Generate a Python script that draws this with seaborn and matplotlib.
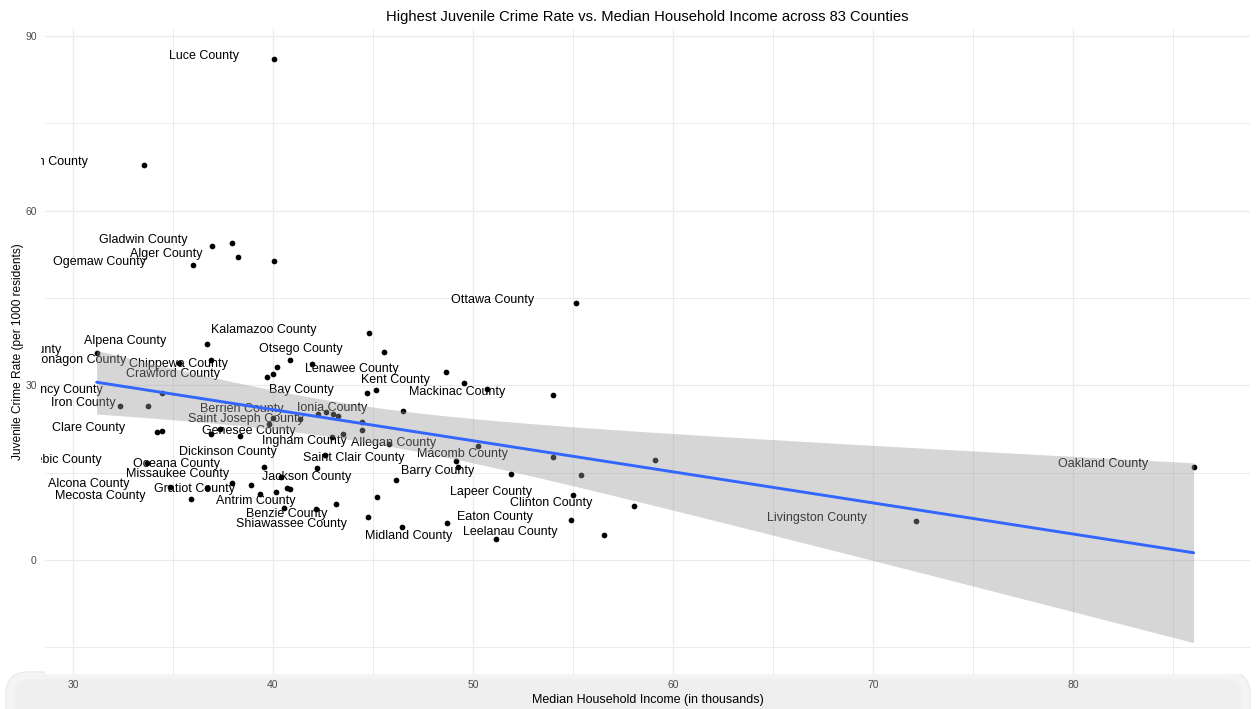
import numpy as np
import pandas as pd
import matplotlib
matplotlib.use("Agg")
import matplotlib.pyplot as plt
import seaborn as sns
from matplotlib.patches import FancyBboxPatch
from matplotlib.transforms import IdentityTransform, Bbox

# County data: median household income (thousands) and juvenile crime rate
# (per 1000 residents). Empty names are counties whose label is not shown.
county = [
    "Luce County", "Roscommon County", "Gladwin County", "", "Alger County", "",
    "Ogemaw County", "Ottawa County", "Kalamazoo County", "Alpena County",
    "Lake County", "Otsego County", "", "Ontonagon County", "", "",
    "Chippewa County", "Crawford County", "", "Lenawee County", "Kent County", "",
    "Mackinac County", "Bay County", "", "Montmorency County", "", "Iron County",
    "Ionia County", "", "Berrien County", "", "", "Saint Joseph County", "", "",
    "", "", "", "Clare County", "", "", "", "", "Genesee County", "Ingham County",
    "Allegan County", "Dickinson County", "Gogebic County", "Oceana County", "",
    "Missaukee County", "Jackson County", "Alcona County", "", "", "",
    "Mecosta County", "", "Gratiot County", "", "", "", "Antrim County", "", "",
    "Benzie County", "Shiawassee County", "Macomb County", "", "Saint Clair County",
    "", "Barry County", "", "Lapeer County", "Clinton County", "Eaton County", "",
    "Leelanau County", "Midland County", "Oakland County", "Livingston County",
]
income = [
    40.05, 33.55, 37.96, 36.93, 38.27, 40.05,
    35.99, 55.13, 44.80, 36.72,
    31.18, 45.55, 36.88, 35.30, 40.87, 41.97,
    40.22, 39.68, 40.02, 48.63, 49.57, 50.68,
    54.02, 44.68, 45.15, 34.47, 32.35, 33.77,
    46.48, 42.27, 42.63, 43.02, 43.23, 44.43, 44.43, 40.02,
    41.35, 39.80, 34.18, 34.43, 36.88, 37.35, 38.35, 42.97, 43.48, 45.82,
    50.27, 42.62, 33.68, 39.55, 42.22,
    40.38, 46.15, 34.85, 36.72, 37.93, 38.88,
    35.88, 39.35, 40.13, 40.68, 40.85, 45.18, 43.13, 40.55, 42.15,
    44.73, 46.47, 54.02, 59.10, 49.13,
    49.27, 51.88, 55.38, 55.02, 58.05, 54.90, 48.72,
    56.57, 51.13, 86.03, 72.17,
]
crime_rate = [
    86.1, 67.9, 54.5, 54.0, 52.1, 51.3,
    50.6, 44.2, 38.9, 37.1,
    35.5, 35.7, 34.3, 33.9, 34.3, 33.6,
    33.1, 31.4, 31.9, 32.2, 30.4, 29.4,
    28.4, 28.6, 29.2, 28.6, 26.5, 26.4,
    25.5, 25.0, 25.4, 25.0, 24.8, 23.7, 22.4, 24.3,
    24.2, 23.3, 21.9, 22.1, 21.6, 22.5, 21.3, 21.1, 21.6, 19.9,
    19.5, 18.0, 16.6, 15.9, 15.8,
    14.3, 13.8, 12.5, 12.3, 13.2, 12.9,
    10.5, 11.4, 11.7, 12.3, 12.1, 10.8, 9.6, 9.0, 8.8,
    7.4, 5.7, 17.7, 17.2, 17.0,
    16.0, 14.7, 14.6, 11.1, 9.3, 6.8, 6.4,
    4.35, 3.65, 16.0, 6.7,
]

df = pd.DataFrame({"county": county, "income": income, "rate": crime_rate})

sns.set_theme(style="whitegrid")
plt.rcParams["font.family"] = ["Liberation Sans", "DejaVu Sans"]

W, H = 1256, 709
fig = plt.figure(figsize=(W / 100, H / 100), dpi=100)
fig.patch.set_facecolor("white")

# soft rounded strip along the bottom edge behind the x axis text
strip = FancyBboxPatch((6, -30), W - 12, 30 + 37,
                       boxstyle="round,pad=0,rounding_size=22",
                       transform=IdentityTransform(), facecolor="#f4f4f4",
                       edgecolor="#ececec", linewidth=1.0, zorder=-2)
fig.patches.append(strip)
strip2 = FancyBboxPatch((14, -30), W - 28, 30 + 30,
                        boxstyle="round,pad=0,rounding_size=18",
                        transform=IdentityTransform(), facecolor="#efefef",
                        edgecolor="none", zorder=-1)
fig.patches.append(strip2)

ax = fig.add_axes([45 / W, 1 - 674 / H, (1250 - 45) / W, (674 - 29) / H])
ax.set_facecolor("white")

# points and county labels
ax.scatter(df["income"], df["rate"], s=17, color="black", linewidths=0, zorder=3)

label_clip = Bbox([[41, 0], [W, H]])
labeled = df[df["county"] != ""]
texts = []
for _, row in labeled.iterrows():
    t = ax.annotate(row["county"], (row["income"], row["rate"]),
                    xytext=(0, 2.2), textcoords="offset points",
                    ha="right", va="center", fontsize=9, color="black",
                    zorder=4)
    t.set_clip_on(True)
    t.set_clip_box(label_clip)
    texts.append(t)

# least-squares line
sns.regplot(data=df, x="income", y="rate", scatter=False, ax=ax, ci=None,
            color="#3366FF", line_kws=dict(lw=2.1, zorder=7))

# 95% confidence band of the fitted mean (t-based, as in a standard lm fit)
x = df["income"].to_numpy()
y = df["rate"].to_numpy()
n = len(x)
slope, intercept = np.polyfit(x, y, 1)
resid = y - (intercept + slope * x)
s_err = np.sqrt(np.sum(resid ** 2) / (n - 2))
xg = np.linspace(x.min(), x.max(), 200)
sxx = np.sum((x - x.mean()) ** 2)
se = s_err * np.sqrt(1 / n + (xg - x.mean()) ** 2 / sxx)
t_crit = 1.990  # two-sided 95% quantile of t with ~80 degrees of freedom
fit = intercept + slope * xg
ax.fill_between(xg, fit - t_crit * se, fit + t_crit * se, color="#999999",
                alpha=0.4, linewidth=0, zorder=6)

ax.set_xlim(28.6, 88.85)
ax.set_ylim(-19.6, 91.2)
ax.set_xticks([30, 40, 50, 60, 70, 80])
ax.set_xticks([35, 45, 55, 65, 75, 85], minor=True)
ax.set_yticks([0, 30, 60, 90])
ax.set_yticks([-15, 15, 45, 75], minor=True)
ax.grid(which="major", color="#ebebeb", linewidth=0.9)
ax.grid(which="minor", color="#ebebeb", linewidth=0.7)
ax.set_axisbelow(True)
for s in ax.spines.values():
    s.set_visible(False)
ax.tick_params(axis="both", which="both", length=0, labelsize=7.5,
               labelcolor="#4d4d4d")
ax.tick_params(axis="x", pad=4)
ax.tick_params(axis="y", pad=6)

ax.set_xlabel("Median Household Income (in thousands)", fontsize=9,
              color="black", labelpad=3)
ax.set_ylabel("Juvenile Crime Rate (per 1000 residents)", fontsize=8.6,
              color="black", labelpad=1)
ax.set_title("Highest Juvenile Crime Rate vs. Median Household Income across 83 Counties",
             fontsize=10.6, color="black", pad=5.5)

# shift each label left by half its own width
fig.canvas.draw()
renderer = fig.canvas.get_renderer()
for t in texts:
    w = t.get_window_extent(renderer).width
    t.xyann = (-0.5 * w * 72 / fig.dpi, 2.2)

fig.savefig("out.png", dpi=100, facecolor="white")
